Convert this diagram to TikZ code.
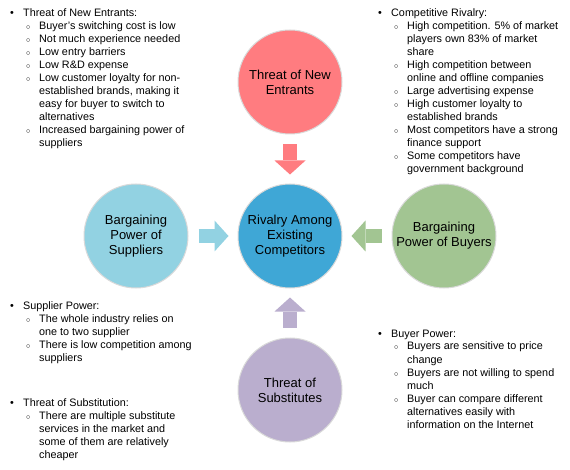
\documentclass[tikz,border=0pt]{standalone}
\usepackage{fontspec}
\setmainfont{Liberation Sans}
\usepackage{array}
\usetikzlibrary{positioning,arrows.meta,calc}

\definecolor{rivalblue}{HTML}{3FA7D6}
\definecolor{entrantred}{HTML}{FF7C80}
\definecolor{supplierblue}{HTML}{92D2E2}
\definecolor{buyergreen}{HTML}{A2C592}
\definecolor{substpurple}{HTML}{BAAECE}

\newcommand{\subdot}{\hspace{3pt}$\scriptstyle\circ$}
\newcommand{\mainpt}[1]{\textbullet & \multicolumn{2}{@{}l@{}}{#1}\\}
\newcommand{\subpt}[1]{& \subdot & #1\\}
\newcommand{\contpt}[1]{& & #1\\}

\begin{document}
\begin{tikzpicture}[x=1pt,y=-1pt,node distance=154pt,on grid]

  \tikzset{
    force/.style={circle,draw=black!15,line width=1pt,minimum size=104pt,
      inner sep=0pt,align=center,font=\fontsize{13}{15}\selectfont},
    push/.style={line width=14pt,shorten <=10pt,shorten >=9pt,
      -{Triangle[width=31pt,length=14pt,line width=0pt]}},
    notes/.style={anchor=base west,inner sep=0pt,
      font=\fontsize{10.8}{13}\selectfont},
  }

  \useasboundingbox (0,0) rectangle (570,470);

  % FORCES

  \node[force,fill=rivalblue] (rivalry) at (290,236) {Rivalry Among\\Existing\\Competitors};
  \node[force,fill=entrantred] (entrants) [above=of rivalry] {Threat of New\\Entrants};
  \node[force,fill=supplierblue] (suppliers) [left=of rivalry] {Bargaining\\Power of\\Suppliers};
  \node[force,fill=buyergreen] (buyers) [right=of rivalry] {Bargaining\\Power of Buyers};
  \node[force,fill=substpurple] (substitutes) [below=of rivalry] {Threat of\\Substitutes};

  \draw[push,entrantred] (entrants) -- (rivalry);
  \draw[push,supplierblue] (suppliers) -- (rivalry);
  \draw[push,buyergreen] (buyers) -- (rivalry);
  \draw[push,substpurple] (substitutes) -- (rivalry);

  % NOTES

  \node[notes] (entrantnotes) at (10,17) {\begin{tabular}[t]{@{}p{13pt}@{}p{16pt}@{}l@{}}
    \mainpt{Threat of New Entrants:}
    \subpt{Buyer's switching cost is low}
    \subpt{Not much experience needed}
    \subpt{Low entry barriers}
    \subpt{Low R\&D expense}
    \subpt{Low customer loyalty for non-}
    \contpt{established brands, making it}
    \contpt{easy for buyer to switch to}
    \contpt{alternatives}
    \subpt{Increased bargaining power of}
    \contpt{suppliers}
  \end{tabular}};

  \node[notes] (rivalnotes) at (378,17) {\begin{tabular}[t]{@{}p{13pt}@{}p{16pt}@{}l@{}}
    \mainpt{Competitive Rivalry:}
    \subpt{High competition. 5\% of market}
    \contpt{players own 83\% of market}
    \contpt{share}
    \subpt{High competition between}
    \contpt{online and offline companies}
    \subpt{Large advertising expense}
    \subpt{High customer loyalty to}
    \contpt{established brands}
    \subpt{Most competitors have a strong}
    \contpt{finance support}
    \subpt{Some competitors have}
    \contpt{government background}
  \end{tabular}};

  \node[notes] (suppliernotes) at (10,309) {\begin{tabular}[t]{@{}p{13pt}@{}p{16pt}@{}l@{}}
    \mainpt{Supplier Power:}
    \subpt{The whole industry relies on}
    \contpt{one to two supplier}
    \subpt{There is low competition among}
    \contpt{suppliers}
  \end{tabular}};

  \node[notes] (substnotes) at (10,406) {\begin{tabular}[t]{@{}p{13pt}@{}p{16pt}@{}l@{}}
    \mainpt{Threat of Substitution:}
    \subpt{There are multiple substitute}
    \contpt{services in the market and}
    \contpt{some of them are relatively}
    \contpt{cheaper}
  \end{tabular}};

  \node[notes] (buyernotes) at (378,337) {\begin{tabular}[t]{@{}p{13pt}@{}p{16pt}@{}l@{}}
    \mainpt{Buyer Power:}
    \subpt{Buyers are sensitive to price}
    \contpt{change}
    \subpt{Buyers are not willing to spend}
    \contpt{much}
    \subpt{Buyer can compare different}
    \contpt{alternatives easily with}
    \contpt{information on the Internet}
  \end{tabular}};

\end{tikzpicture}
\end{document}
